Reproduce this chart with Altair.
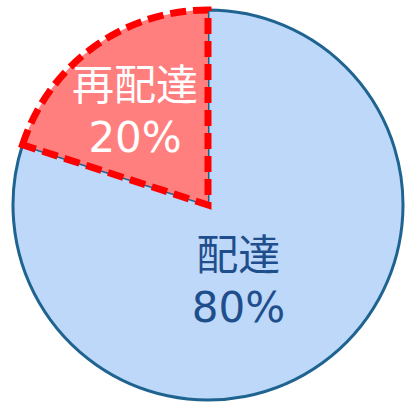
import math
import altair as alt
import pandas as pd

labels = ["配達", "再配達"]
values = [80, 20]
order_idx = [0, 1]

df = pd.DataFrame({"label": labels, "value": values, "idx": order_idx})
df["text"] = [f"{l}\n{v}%" for l, v in zip(labels, values)]

CX, CY, R = 208, 205, 195
is_red = "datum.label == '再配達'"
is_blue = "datum.label == '配達'"

theta_scale = alt.Scale(domain=[0, sum(values)], range=[0, 2 * math.pi])

base = alt.Chart(df).transform_window(
    cum="sum(value)", sort=[alt.SortField("idx")]
).transform_calculate(
    start="datum.cum - datum.value", mid="datum.cum - datum.value / 2"
)

enc = dict(
    theta=alt.Theta("start:Q", scale=theta_scale), theta2=alt.Theta2("cum"),
    x=alt.value(CX), y=alt.value(CY),
)

blue_arc = base.transform_filter(is_blue).mark_arc(
    outerRadius=R, fill="#BDD8F8", stroke="#1F6391", strokeWidth=3
).encode(**enc)

red_arc = base.transform_filter(is_red).mark_arc(
    outerRadius=R, fill="#FF7F7F", stroke="#FF0000", strokeWidth=7,
    strokeDash=[16, 7], strokeJoin="miter",
).encode(**enc)

font = "DejaVu Sans, Noto Sans CJK JP"

red_text = base.transform_filter(is_red).mark_text(
    radius=119, dx=-3, dy=-22, fontSize=42, lineHeight=52, lineBreak="\n",
    font=font, color="#FFFFFF", align="center", baseline="middle",
).encode(theta=alt.Theta("mid:Q", scale=theta_scale), text="text:N",
         x=alt.value(CX), y=alt.value(CY))

blue_text = base.transform_filter(is_blue).mark_text(
    radius=84, dx=-19, dy=-16, fontSize=42, lineHeight=52, lineBreak="\n",
    font=font, color="#1F4E8C", align="center", baseline="middle",
).encode(theta=alt.Theta("mid:Q", scale=theta_scale), text="text:N",
         x=alt.value(CX), y=alt.value(CY))

chart = alt.layer(blue_arc, red_arc, red_text, blue_text).properties(
    width=405, height=405, padding=0, autosize=alt.AutoSizeParams(type="none")
).configure_view(stroke=None)

chart.save("out.html", embed_options={"renderer": "svg", "actions": False})
